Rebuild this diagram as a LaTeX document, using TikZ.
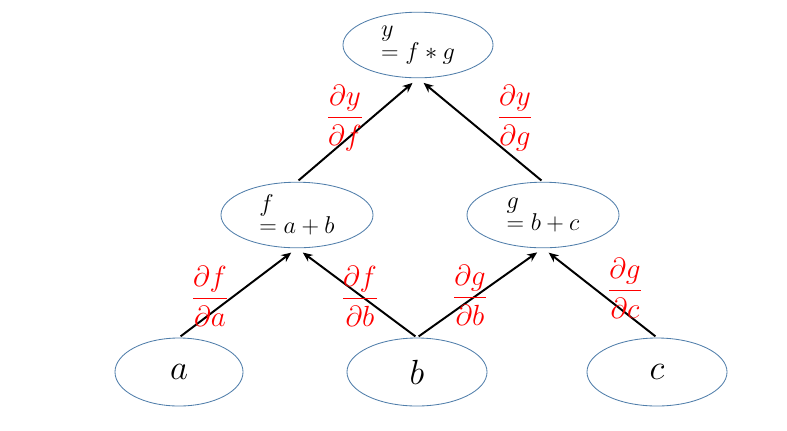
\documentclass[tikz,border=0pt]{standalone}
\usepackage{amsmath}
\usepackage{tikz}
\usetikzlibrary{shapes.geometric, arrows, arrows.meta, positioning, calc}
\definecolor{nodeblue}{RGB}{80,126,170}

\begin{document}
\begin{tikzpicture}[
    x=0.025cm, y=-0.025cm,
    opnode/.style={ellipse, draw=nodeblue, line width=0.6pt, minimum width=3.8cm, minimum height=1.64cm, inner sep=0pt, align=left, font=\fontsize{17.28}{16}\selectfont},
    varnode/.style={ellipse, draw=nodeblue, line width=0.6pt, minimum width=3.5cm, minimum height=1.7cm, inner sep=0pt, font=\fontsize{28}{32}\selectfont},
    grad/.style={text=red, inner sep=0pt, font=\fontsize{21}{25}\selectfont},
    arrow/.style={-{Stealth[length=7pt,width=6pt]}, line width=1.4pt, draw=black, shorten >=0.18cm, shorten <=0.05cm}
]
\useasboundingbox (0,0) rectangle (787,430);

% nodes
\node[opnode, minimum width=3.75cm] (y) at (418,45) {$y$\\$= f * g$};
\node[opnode] (f) at (297,215) {$f$\\$= a + b$};
\node[opnode] (g) at (543,215) {$g$\\$= b + c$};
\node[varnode, minimum width=3.2cm] (a) at (179,372) {$a$};
\node[varnode] (b) at (417,372) {$b$};
\node[varnode] (c) at (657,372) {$c$};

% edges
\draw[arrow] (f.north) -- (y.south);
\draw[arrow] (g.north) -- (y.south);
\draw[arrow] (a.north) -- (f.south);
\draw[arrow] (b.north) -- (f.south);
\draw[arrow] (b.north) -- (g.south);
\draw[arrow] (c.north) -- (g.south);

% gradients
\node[grad] (dydf) at (345,118) {$\dfrac{\partial y}{\partial f}$};
\node[grad] (dydg) at (515,118) {$\dfrac{\partial y}{\partial g}$};
\node[grad] (dfda) at (210,296) {$\dfrac{\partial f}{\partial a}$};
\node[grad] (dfdb) at (360,296) {$\dfrac{\partial f}{\partial b}$};
\node[grad] (dgdb) at (470,295) {$\dfrac{\partial g}{\partial b}$};
\node[grad] (dgdc) at (625,288) {$\dfrac{\partial g}{\partial c}$};

\end{tikzpicture}
\end{document}
